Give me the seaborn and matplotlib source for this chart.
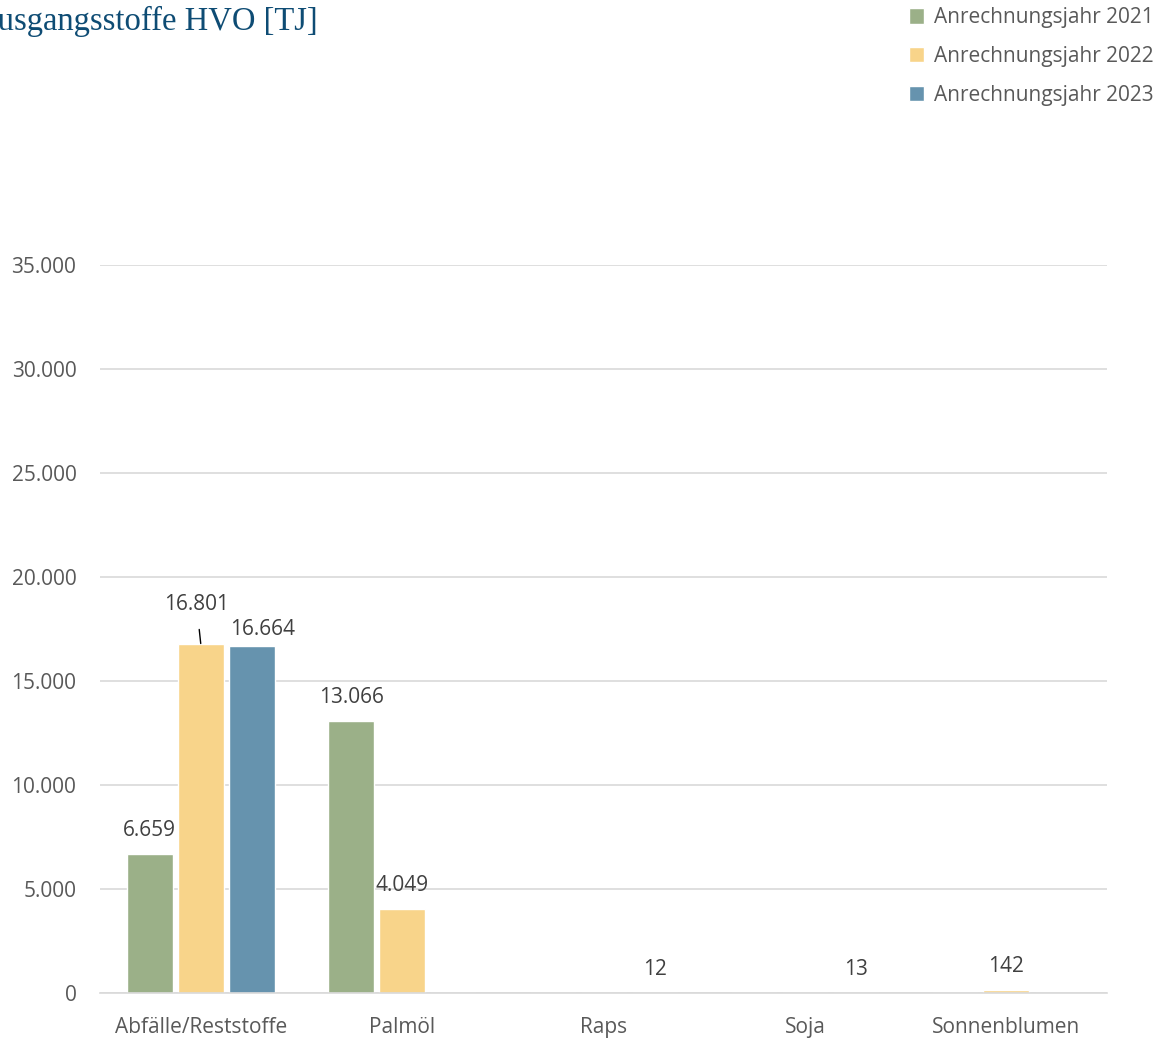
import matplotlib
matplotlib.use("Agg")
import matplotlib.pyplot as plt
import seaborn as sns
import pandas as pd

# Feedstocks for HVO, energy credited per year [TJ]
categories = ["Abfälle/Reststoffe", "Palmöl", "Raps", "Soja", "Sonnenblumen"]
years = ["Anrechnungsjahr 2021", "Anrechnungsjahr 2022", "Anrechnungsjahr 2023"]
values_2021 = [6659, 13066, 0, 0, 0]
values_2022 = [16801, 4049, 0, 0, 142]
values_2023 = [16664, 0, 12, 13, 0]
yticks = [0, 5000, 10000, 15000, 20000, 25000, 30000, 35000]

colors = ["#9BB088", "#F8D48A", "#6693AE"]
text_gray = "#595959"
label_gray = "#404040"
fs = 15

rows = []
for year, vals in zip(years, [values_2021, values_2022, values_2023]):
    for cat, v in zip(categories, vals):
        rows.append({"Ausgangsstoff": cat, "Jahr": year, "TJ": v})
df = pd.DataFrame(rows)

sns.set_theme(style="white")
plt.rcParams["font.family"] = ["Open Sans", "DejaVu Sans"]

fig = plt.figure(figsize=(11.63, 10.38), dpi=100)
ax = fig.add_axes([0.0860, 0.0434, 0.952 - 0.0860, 0.7447 - 0.0434])

sns.barplot(data=df, x="Ausgangsstoff", y="TJ", hue="Jahr", order=categories,
            hue_order=years, palette=colors, width=0.76, gap=0.1,
            saturation=1, errorbar=None, ax=ax, legend=True)

ax.set_ylim(0, 35000)
ax.set_xlim(-0.5, len(categories) - 0.5)
ax.set_yticks(yticks)
ax.set_yticklabels([f"{t:,}".replace(",", ".") for t in yticks])
ax.yaxis.grid(True, color="#d9d9d9", linewidth=1.2)
ax.set_axisbelow(True)
for side in ["top", "right", "left"]:
    ax.spines[side].set_visible(False)
ax.spines["bottom"].set_color("#d9d9d9")
ax.spines["bottom"].set_linewidth(1.2)
ax.set_xlabel("")
ax.set_ylabel("")
ax.tick_params(axis="both", length=0, labelsize=fs, labelcolor=text_gray)
ax.tick_params(axis="y", pad=17)
ax.tick_params(axis="x", pad=17)

# Value labels above the non-zero bars
for container in ax.containers:
    for patch in container:
        h = patch.get_height()
        if h <= 0:
            continue
        xc = patch.get_x() + patch.get_width() / 2
        txt = f"{h:,.0f}".replace(",", ".")
        if abs(h - 16801) < 0.5:
            ax.annotate(txt, xy=(xc, h), xytext=(-3, 28), textcoords="offset points",
                        ha="center", va="center", fontsize=fs, color=label_gray,
                        arrowprops=dict(arrowstyle="-", color="black", lw=1,
                                        shrinkA=8, shrinkB=0))
        elif abs(h - 16664) < 0.5:
            ax.annotate(txt, xy=(xc, h), xytext=(8, 12), textcoords="offset points",
                        ha="center", va="center", fontsize=fs, color=label_gray)
        else:
            ax.annotate(txt, xy=(xc, h), xytext=(0, 17), textcoords="offset points",
                        ha="center", va="center", fontsize=fs, color=label_gray)

# Legend in the upper right corner
handles, labels = ax.get_legend_handles_labels()
ax.get_legend().remove()
fig.legend(handles, labels, loc="upper right", bbox_to_anchor=(1.008, 1.011),
           frameon=False, fontsize=fs, labelcolor=text_gray,
           handlelength=0.75, handleheight=0.75, handletextpad=0.45,
           labelspacing=0.85)

fig.text(-0.022, 0.979, "Ausgangsstoffe HVO [TJ]", family=["Liberation Serif", "DejaVu Serif"],
         fontsize=23.5, color="#0E4C74", ha="left", va="center")

fig.savefig("out.png", dpi=100, facecolor="white")
